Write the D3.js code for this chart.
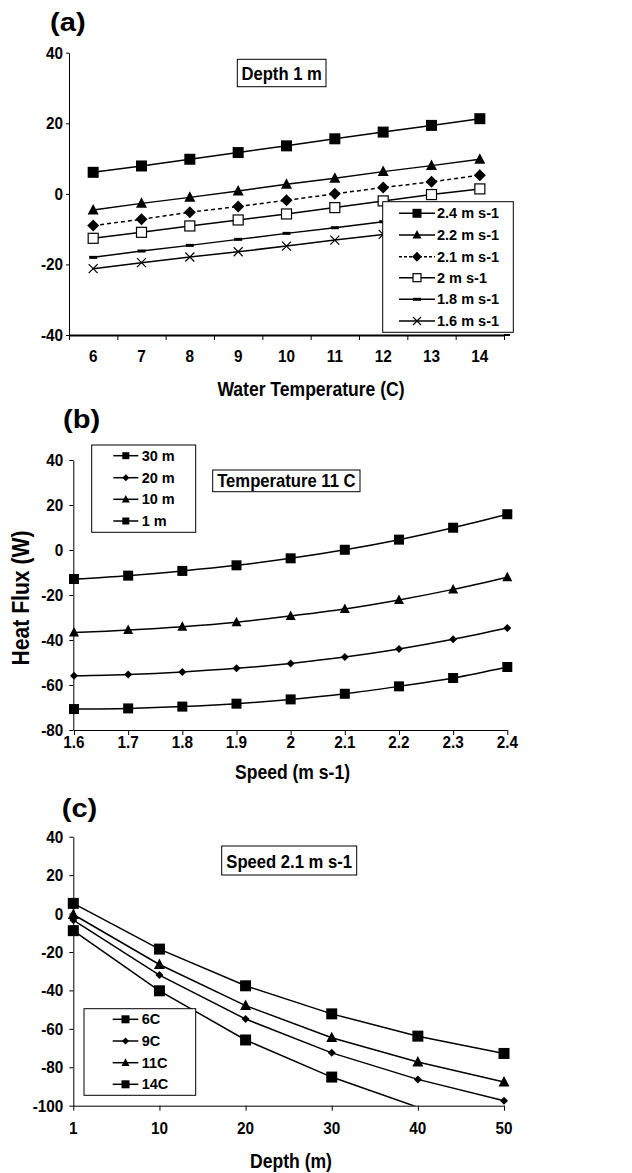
<!DOCTYPE html>
<html>
<head>
<meta charset="utf-8">
<script src="https://cdn.jsdelivr.net/npm/d3@7"></script>
<style>
	body { margin: 0; background: #fff; }
	text { font-family: "Liberation Sans", Arial, sans-serif; font-weight: bold; fill: #000; }
</style>
</head>
<body>
<svg id="chart" width="632" height="1173"></svg>
<script>

// ---- panel (a): depth 1 m, flux vs water temperature
var tempsA = [6,7,8,9,10,11,12,13,14];
var speedsA = ['2.4 m s-1','2.2 m s-1','2.1 m s-1','2 m s-1','1.8 m s-1','1.6 m s-1'];
var fluxA24 = [6.1,7.9,9.8,11.7,13.6,15.6,17.5,19.4,21.3];
var fluxA22 = [-4.6,-2.7,-1.0,0.8,2.7,4.4,6.3,8.0,9.8];
var fluxA21 = [-9.0,-7.2,-5.2,-3.6,-1.8,0,1.8,3.4,5.3];
var fluxA20 = [-12.6,-10.9,-9.1,-7.4,-5.7,-3.9,-2.0,-0.2,1.4];
var fluxA18 = [-18.0,-16.2,-14.6,-12.9,-11.2,-9.6,-7.9,-6.2,-4.5];
var fluxA16 = [-21.2,-19.5,-17.9,-16.4,-14.8,-13.1,-11.5,-9.8,-8.2];
var ticksA = [-40,-20,0,20,40];

// ---- panel (b): temperature 11 C, flux vs speed
var speedsB = [1.6,1.7,1.8,1.9,2,2.1,2.2,2.3,2.4];
var depthsB = ['30 m','20 m','10 m','1 m'];
var fluxB30 = [-70.7,-70.4,-69.6,-68.3,-66.4,-63.9,-60.6,-56.9,-52.0];
var fluxB20 = [-55.9,-55.3,-54.2,-52.6,-50.4,-47.6,-44.0,-39.7,-34.7];
var fluxB10 = [-36.7,-35.6,-34.1,-32.1,-29.3,-26.2,-22.2,-17.5,-12.1];
var fluxB1 = [-12.9,-11.4,-9.3,-6.8,-3.7,0.1,4.6,9.9,15.9];
var ticksB = [-80,-60,-40,-20,0,20,40];

// ---- panel (c): speed 2.1 m s-1, flux vs depth
var depthsC = ['1','10','20','30','40','50'];
var tempsC = ['6C','9C','11C','14C'];
var fluxC6 = [5.3,-18.5,-37.6,-52.2,-63.8,-72.8];
var fluxC9 = [-3.4,-32.0,-54.9,-72.5,-86.3,-97.4];
var fluxC11 = [-0.5,-26.5,-47.9,-64.6,-77.3,-87.7];
var fluxC14 = [-8.9,-40.2,-65.8,-85.1,-100.8,-112];
var ticksC = [-100,-80,-60,-40,-20,0,20,40];

var svg = d3.select('#chart');
var SX = 0.9;   // the original lettering is a little narrow

function drawMarker(g, type, x, y, s){
	if (type == 'square') {
		g.append('rect').attr('x', x-s/2).attr('y', y-s/2).attr('width', s).attr('height', s).attr('fill', '#000');
	} else if (type == 'open') {
		g.append('rect').attr('x', x-s/2).attr('y', y-s/2).attr('width', s).attr('height', s)
			.attr('fill', '#fff').attr('stroke', '#000').attr('stroke-width', 1.2);
	} else if (type == 'triangle') {
		g.append('path').attr('d', 'M'+x+','+(y-s*0.55)+'L'+(x+s/2)+','+(y+s*0.4)+'L'+(x-s/2)+','+(y+s*0.4)+'Z').attr('fill', '#000');
	} else if (type == 'diamond') {
		g.append('path').attr('d', 'M'+x+','+(y-s/2)+'L'+(x+s/2)+','+y+'L'+x+','+(y+s/2)+'L'+(x-s/2)+','+y+'Z').attr('fill', '#000');
	} else if (type == 'dash') {
		g.append('rect').attr('x', x-4).attr('y', y-1.5).attr('width', 8).attr('height', 3).attr('fill', '#000');
	} else if (type == 'x') {
		g.append('path').attr('d', 'M'+(x-s/2)+','+(y-s/2)+'L'+(x+s/2)+','+(y+s/2)+'M'+(x-s/2)+','+(y+s/2)+'L'+(x+s/2)+','+(y-s/2))
			.attr('stroke', '#000').attr('stroke-width', 1.2);
	}
}

function drawSeries(g, xs, vals, xScale, yScale, type, size, dash, curve){
	var pts = xs.map(function(d,i){ return [xScale(d), yScale(vals[i]), vals[i]]; });
	g.append('path')
		.attr('d', d3.line().curve(curve || d3.curveLinear)(pts))
		.attr('fill', 'none').attr('stroke', '#000').attr('stroke-width', 1.5)
		.attr('stroke-dasharray', dash || null);
	pts.forEach(function(p){
		if (p[2] >= yScale.domain()[0]) drawMarker(g, type, p[0], p[1], size);
	});
}

function plainText(label, x, y, size, anchor, rot, sx){
	return svg.append('text')
		.attr('transform', 'translate(' + x + ',' + y + ')' + (rot ? ' rotate(' + rot + ')' : '') + ' scale(' + (sx || SX) + ',1)')
		.attr('text-anchor', anchor || 'middle')
		.style('font-size', size + 'px').text(label);
}

function yAxis(yScale, x, ticks, tickSize, pad){
	var g = svg.append('g').attr('transform', 'translate(' + x + ',0)')
		.call(d3.axisLeft(yScale).tickValues(ticks).tickSize(tickSize).tickFormat('').tickSizeOuter(0));
	g.selectAll('line, path').attr('stroke', '#000').attr('stroke-width', 1);
	ticks.forEach(function(t){ plainText(String(t), x - tickSize - pad, yScale(t) + 6, 17, 'end'); });
}

function legend(entries, box, lx0, lx1, tx, ys){
	var g = svg.append('g');
	g.append('rect').attr('x', box[0]).attr('y', box[1]).attr('width', box[2]).attr('height', box[3])
		.attr('fill', '#fff').attr('stroke', '#000').attr('stroke-width', 1);
	entries.forEach(function(e, i){
		g.append('line').attr('x1', lx0).attr('x2', lx1).attr('y1', ys[i]).attr('y2', ys[i])
			.attr('stroke', '#000').attr('stroke-width', 1.5).attr('stroke-dasharray', e.dash || null);
		drawMarker(g, e.type, (lx0+lx1)/2, ys[i], e.size);
		g.append('text').attr('x', tx).attr('y', ys[i] + 5).style('font-size', '14.5px').text(e.name);
	});
}

function titleBox(label, box, baseline){
	svg.append('rect').attr('x', box[0]).attr('y', box[1]).attr('width', box[2]).attr('height', box[3])
		.attr('fill', '#fff').attr('stroke', '#000').attr('stroke-width', 1);
	plainText(label, box[0] + box[2]/2, baseline, 18.5);
}

// ================= panel (a)
var xA = d3.scaleLinear().domain([5.5, 14.5]).range([69, 504]);
var yA = d3.scaleLinear().domain([-40, 40]).range([335, 52.7]);

plainText('(a)', 50, 31, 26, 'start', 0, 1.12);
yAxis(yA, 69, ticksA, 3, 3);
var gxA = svg.append('g').attr('transform', 'translate(0,335)')
	.call(d3.axisBottom(xA).tickValues(d3.range(5.5, 15, 1)).tickSize(5).tickFormat('').tickSizeOuter(0));
gxA.selectAll('line').attr('stroke', '#000');
gxA.select('.domain').attr('stroke', '#000').attr('stroke-width', 2);
svg.append('line').attr('x1', xA(14.5)).attr('x2', xA(14.5) + 6).attr('y1', 335).attr('y2', 335)
	.attr('stroke', '#000').attr('stroke-width', 2);
tempsA.forEach(function(t){ plainText(t, xA(t), 361.5, 17); });
plainText('Water Temperature (C)', 311, 396, 19.5);
titleBox('Depth 1 m', [237.3, 59.3, 88.7, 27.4], 79.5);

var gA = svg.append('g');
drawSeries(gA, tempsA, fluxA24, xA, yA, 'square', 11);
drawSeries(gA, tempsA, fluxA22, xA, yA, 'triangle', 11);
drawSeries(gA, tempsA, fluxA21, xA, yA, 'diamond', 12, '4,3');
drawSeries(gA, tempsA, fluxA20, xA, yA, 'open', 10);
drawSeries(gA, tempsA, fluxA18, xA, yA, 'dash', 8);
drawSeries(gA, tempsA, fluxA16, xA, yA, 'x', 9);

legend([
	{name: speedsA[0], type: 'square', size: 9},
	{name: speedsA[1], type: 'triangle', size: 9},
	{name: speedsA[2], type: 'diamond', size: 10, dash: '3,2'},
	{name: speedsA[3], type: 'open', size: 8},
	{name: speedsA[4], type: 'dash', size: 8},
	{name: speedsA[5], type: 'x', size: 8}
], [382.7, 201.7, 130.6, 130.6], 399, 435, 437, [213.3, 235, 256.7, 277.7, 299.3, 321]);

// ================= panel (b)
var xB = d3.scaleLinear().domain([1.6, 2.4]).range([74, 507.3]);
var yB = d3.scaleLinear().domain([-80, 40]).range([730, 460]);

plainText('(b)', 63, 428, 26, 'start', 0, 1.12);
yAxis(yB, 73.3, ticksB, 4, 6);
var gxB = svg.append('g').attr('transform', 'translate(0,730)')
	.call(d3.axisBottom(xB).tickValues(speedsB).tickSize(5).tickFormat('').tickSizeOuter(0));
gxB.selectAll('line, path').attr('stroke', '#000');
speedsB.forEach(function(s){ plainText(d3.format('~g')(s), xB(s), 748, 17); });
plainText('Speed (m s-1)', 292.5, 779, 19.5);
plainText('Heat Flux (W)', 28.5, 598, 23.5, 'middle', -90);
titleBox('Temperature 11 C', [212.7, 470, 147.3, 21.7], 487);

var gB = svg.append('g');
drawSeries(gB, speedsB, fluxB1, xB, yB, 'square', 10, null, d3.curveCatmullRom);
drawSeries(gB, speedsB, fluxB10, xB, yB, 'triangle', 10, null, d3.curveCatmullRom);
drawSeries(gB, speedsB, fluxB20, xB, yB, 'diamond', 8, null, d3.curveCatmullRom);
drawSeries(gB, speedsB, fluxB30, xB, yB, 'square', 10, null, d3.curveCatmullRom);

legend([
	{name: depthsB[0], type: 'square', size: 7},
	{name: depthsB[1], type: 'diamond', size: 7},
	{name: depthsB[2], type: 'triangle', size: 8},
	{name: depthsB[3], type: 'square', size: 7}
], [91.7, 445, 104, 87.3], 113.3, 138.3, 141.7, [455.7, 477.7, 499.3, 521]);

// ================= panel (c)
var xC = d3.scalePoint().domain(depthsC).range([73.3, 504]);
var yC = d3.scaleLinear().domain([-100, 40]).range([1105.7, 836.7]);

plainText('(c)', 61.7, 817, 26, 'start', 0, 1.12);
yAxis(yC, 73.3, ticksC, 4, 6);
var gxC = svg.append('g').attr('transform', 'translate(0,1105.7)')
	.call(d3.axisBottom(xC).tickSize(5).tickFormat('').tickSizeOuter(0));
gxC.selectAll('line, path').attr('stroke', '#000');
depthsC.forEach(function(d){ plainText(d, xC(d), 1134, 17); });
plainText('Depth (m)', 291, 1168, 19.5);
titleBox('Speed 2.1 m s-1', [221.7, 846, 135, 29], 868);

svg.append('clipPath').attr('id', 'clipC').append('rect')
	.attr('x', 60).attr('y', 820).attr('width', 470).attr('height', yC(-100) - 820);
var gC = svg.append('g').attr('clip-path', 'url(#clipC)');
drawSeries(gC, depthsC, fluxC6, xC, yC, 'square', 11);
drawSeries(gC, depthsC, fluxC9, xC, yC, 'diamond', 8);
drawSeries(gC, depthsC, fluxC11, xC, yC, 'triangle', 11);
drawSeries(gC, depthsC, fluxC14, xC, yC, 'square', 11);

legend([
	{name: tempsC[0], type: 'square', size: 8},
	{name: tempsC[1], type: 'diamond', size: 7},
	{name: tempsC[2], type: 'triangle', size: 8},
	{name: tempsC[3], type: 'square', size: 8}
], [84, 1008.7, 111.7, 86.6], 112.7, 138.3, 141.7, [1019.3, 1041, 1062.7, 1084.3]);

</script>
</body>
</html>
